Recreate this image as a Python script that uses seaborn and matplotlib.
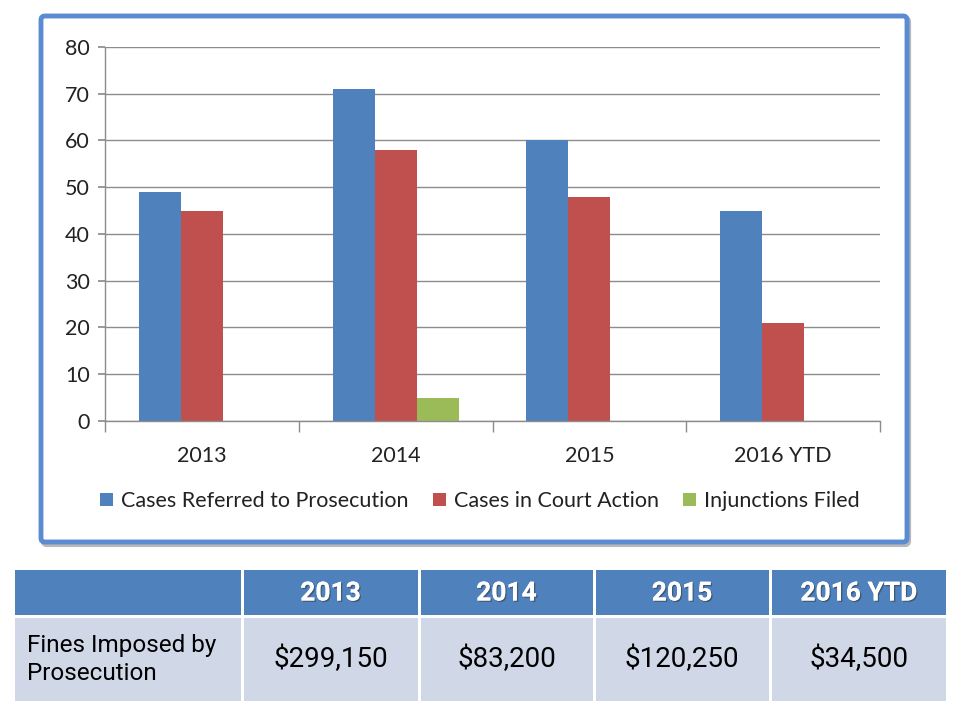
import matplotlib
matplotlib.use("Agg")
import matplotlib.pyplot as plt
import seaborn as sns
import pandas as pd
from matplotlib.patches import FancyBboxPatch, Rectangle
import matplotlib.patheffects as pe

categories = ["2013", "2014", "2015", "2016 YTD"]
series = ["Cases Referred to Prosecution", "Cases in Court Action", "Injunctions Filed"]
referred = [49, 71, 60, 45]
court = [45, 58, 48, 21]
injunctions = [0, 5, 0, 0]
colors = ["#4F81BD", "#C0504D", "#9BBB59"]
yticks = [0, 10, 20, 30, 40, 50, 60, 70, 80]

table_header = ["", "2013", "2014", "2015", "2016 YTD"]
table_row_label = "Fines Imposed by\nProsecution"
fines = ["$299,150", "$83,200", "$120,250", "$34,500"]

rows = []
for s, vals in zip(series, [referred, court, injunctions]):
    for c, v in zip(categories, vals):
        rows.append({"Year": c, "Series": s, "Value": v})
df = pd.DataFrame(rows)

sns.set_theme(style="white")
plt.rcParams["font.family"] = ["Lato", "DejaVu Sans"]

W, H = 960, 711
fig = plt.figure(figsize=(W / 100, H / 100), dpi=100)
fig.patch.set_facecolor("white")

# overlay axes in pixel coords for frame and table
over = fig.add_axes([0, 0, 1, 1], zorder=0)
over.set_xlim(0, W)
over.set_ylim(H, 0)
over.axis("off")

# chart frame with shadow
shadow = FancyBboxPatch((43, 18), 866, 527, boxstyle="round,pad=0,rounding_size=4",
                        linewidth=3, edgecolor="#B8B8B8", facecolor="none")
over.add_patch(shadow)
frame = FancyBboxPatch((41, 16), 866, 526, boxstyle="round,pad=0,rounding_size=4",
                       linewidth=3.5, edgecolor="#5B8BD0", facecolor="white")
over.add_patch(frame)

ax = fig.add_axes([105 / W, 1 - 421 / H, (880 - 105) / W, (421 - 47) / H], zorder=2)
ax.set_facecolor("none")
sns.barplot(data=df, x="Year", y="Value", hue="Series", palette=colors,
            width=0.65, saturation=1, ax=ax, legend=True, edgecolor="none", linewidth=0)
ax.set_ylim(0, 80)
ax.set_xlim(-0.5, 3.5)
ax.set_yticks(yticks)
ax.set_xlabel("")
ax.set_ylabel("")
ax.grid(axis="y", color="#8C8C8C", linewidth=1)
ax.set_axisbelow(True)
for sp in ["top", "right"]:
    ax.spines[sp].set_visible(False)
ax.spines["left"].set_color("#8C8C8C")
ax.spines["bottom"].set_color("#8C8C8C")
ax.spines["left"].set_linewidth(1)
ax.spines["bottom"].set_linewidth(1)
ax.tick_params(axis="y", left=True, length=5, color="#8C8C8C", labelsize=15.5, labelcolor="#222222", pad=6)
ax.set_xticks([-0.5, 0.5, 1.5, 2.5, 3.5], minor=True)
ax.tick_params(axis="x", which="minor", bottom=True, length=8, color="#8C8C8C")
ax.tick_params(axis="x", which="major", bottom=False, labelsize=15.5, labelcolor="#222222", pad=12)

handles, labels = ax.get_legend_handles_labels()
ax.get_legend().remove()
leg = fig.legend(handles, labels, loc="center", bbox_to_anchor=(480 / W, 1 - 501 / H),
                 ncol=3, frameon=False, fontsize=15.5, handlelength=0.6, handleheight=0.6,
                 handletextpad=0.4, columnspacing=1.1, labelcolor="#222222")

# table
col_edges = [15, 242, 419, 594, 770, 946]
gap = 3
head_top, head_bot = 570, 615
row_top, row_bot = 618, 701
narrow = ["Roboto", "DejaVu Sans"]
for i in range(5):
    x0 = col_edges[i] + (0 if i == 0 else gap / 2)
    x1 = col_edges[i + 1] - (0 if i == 4 else gap / 2)
    over.add_patch(Rectangle((x0, head_top), x1 - x0, head_bot - head_top,
                             facecolor="#4F81BD", edgecolor="none"))
    over.add_patch(Rectangle((x0, row_top), x1 - x0, row_bot - row_top,
                             facecolor="#D0D8E8", edgecolor="none"))
    cx = (x0 + x1) / 2
    if table_header[i]:
        t = over.text(cx, (head_top + head_bot) / 2 + 1, table_header[i], ha="center", va="center",
                      color="white", fontsize=19, fontweight="bold", family=narrow)
        t.set_path_effects([pe.withSimplePatchShadow(offset=(1, -1), shadow_rgbFace="#333333", alpha=0.5),
                            pe.Normal()])
    if i == 0:
        over.text(x0 + 12, (row_top + row_bot) / 2, table_row_label, ha="left", va="center",
                  color="black", fontsize=17.5, family=narrow, linespacing=1.25)
    else:
        over.text(cx, (row_top + row_bot) / 2, fines[i - 1], ha="center", va="center",
                  color="black", fontsize=20, family=narrow)

fig.savefig("out.png", dpi=100, facecolor="white")
